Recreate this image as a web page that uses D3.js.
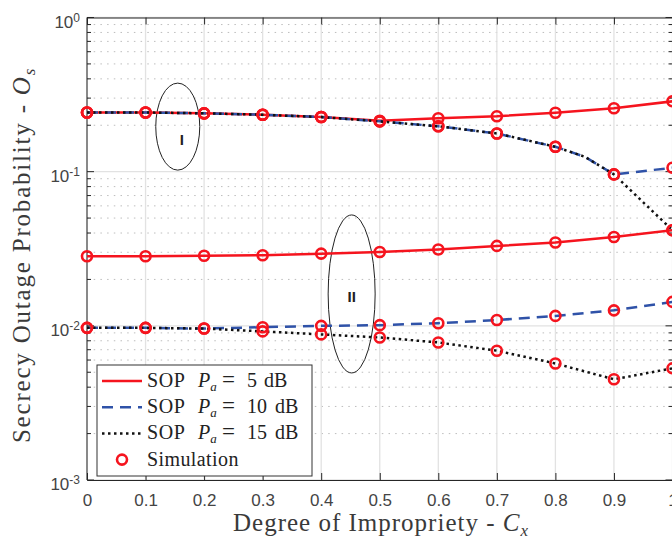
<!DOCTYPE html>
<html>
<head>
<meta charset="utf-8">
<script src="https://cdn.jsdelivr.net/npm/d3@7"></script>
<style>
  body { margin: 0; background: #fff; }
  svg { display: block; }
</style>
</head>
<body>
<div id="chart"></div>
<script>
// Degree of impropriety (x axis)
const cx = [0, 0.1, 0.2, 0.3, 0.4, 0.5, 0.6, 0.7, 0.8, 0.9, 1.0];
// analytical curves of group I for 10 / 15 dB have a visible kink near 0.85
const cxFine = [0, 0.1, 0.2, 0.3, 0.4, 0.5, 0.6, 0.7, 0.8, 0.85, 0.9, 1.0];

// Group I
const sop5I = [0.242, 0.242, 0.239, 0.234, 0.226, 0.214, 0.222, 0.229, 0.241, 0.258, 0.286];
const sop10I = [0.242, 0.242, 0.239, 0.234, 0.226, 0.212, 0.197, 0.177, 0.145, 0.125, 0.096, 0.106];
const sop15I = [0.242, 0.242, 0.239, 0.234, 0.226, 0.212, 0.197, 0.177, 0.145, 0.125, 0.096, 0.0417];
const sim10I = [0.242, 0.242, 0.239, 0.234, 0.226, 0.212, 0.197, 0.177, 0.145, 0.096, 0.106];
const sim15I = [0.242, 0.242, 0.239, 0.234, 0.226, 0.212, 0.197, 0.177, 0.145, 0.096, 0.0417];

// Group II
const sop5II = [0.0283, 0.0283, 0.0285, 0.0287, 0.0294, 0.0301, 0.0313, 0.0330, 0.0347, 0.0377, 0.0417];
const sop10II = [0.0097, 0.0097, 0.0096, 0.0098, 0.0100, 0.0101, 0.0104, 0.0109, 0.0116, 0.0126, 0.0143];
const sop15II = [0.0097, 0.0097, 0.0096, 0.0092, 0.0088, 0.0084, 0.0078, 0.0069, 0.0057, 0.0045, 0.0053];

const xTicks = [0, 0.1, 0.2, 0.3, 0.4, 0.5, 0.6, 0.7, 0.8, 0.9, 1];
const xTickLabels = ['0', '0.1', '0.2', '0.3', '0.4', '0.5', '0.6', '0.7', '0.8', '0.9', '1'];
const yExponents = [-3, -2, -1, 0];
const legendPowers = ['5', '10', '15'];

const W = 672, H = 541;
const margin = { top: 17.5, right: 0, bottom: 61, left: 87 };
const plotW = 585.5, plotH = H - margin.top - margin.bottom;

const red = '#f5141e', blue = '#2f52a8', black = '#111';
const axisColor = '#262626';
const sans = 'Liberation Sans, Arial, sans-serif';
const serif = 'Liberation Serif, Times New Roman, serif';

const svg = d3.select('#chart').append('svg')
    .attr('width', W).attr('height', H);

const x = d3.scaleLinear().domain([0, 1]).range([margin.left, margin.left + plotW]);
const y = d3.scaleLog().domain([1e-3, 1]).range([margin.top + plotH, margin.top]);

// Grid
const grid = svg.append('g');
const minorVals = [];
yExponents.slice(0, -1).forEach(e => {
    for (let k = 2; k <= 9; k++) minorVals.push(k * Math.pow(10, e));
});
grid.selectAll('.minor').data(minorVals).enter().append('line')
    .attr('x1', x(0)).attr('x2', x(1))
    .attr('y1', d => y(d)).attr('y2', d => y(d))
    .attr('stroke', '#bdbdbd').attr('stroke-width', 1)
    .attr('stroke-dasharray', '1.5,5.2');
grid.selectAll('.majx').data(xTicks).enter().append('line')
    .attr('x1', d => x(d)).attr('x2', d => x(d))
    .attr('y1', y(1e-3)).attr('y2', y(1))
    .attr('stroke', '#e2e2e2').attr('stroke-width', 1.3);
grid.selectAll('.majy').data(yExponents).enter().append('line')
    .attr('x1', x(0)).attr('x2', x(1))
    .attr('y1', d => y(Math.pow(10, d))).attr('y2', d => y(Math.pow(10, d)))
    .attr('stroke', '#e2e2e2').attr('stroke-width', 1.3);

// Axes
const xAxis = d3.axisBottom(x).tickValues(xTicks).tickSize(-7).tickPadding(14)
    .tickFormat((d, i) => xTickLabels[i]);
const gx = svg.append('g').attr('transform', `translate(0,${y(1e-3)})`).call(xAxis);
gx.select('.domain').attr('stroke', axisColor);
gx.selectAll('.tick line').attr('stroke', axisColor);
gx.selectAll('text').attr('fill', '#444').style('font-family', sans).style('font-size', '17px');

const xTop = d3.axisTop(x).tickValues(xTicks).tickSize(-7).tickFormat('');
const gxt = svg.append('g').attr('transform', `translate(0,${y(1)})`).call(xTop);
gxt.select('.domain').attr('stroke', axisColor);
gxt.selectAll('.tick line').attr('stroke', axisColor);

// y axis: line + major/minor ticks inside on both sides
const gy = svg.append('g');
gy.append('line').attr('x1', x(0)).attr('x2', x(0)).attr('y1', y(1e-3)).attr('y2', y(1)).attr('stroke', axisColor);
gy.append('line').attr('x1', x(1)).attr('x2', x(1)).attr('y1', y(1e-3)).attr('y2', y(1)).attr('stroke', axisColor);
[[x(0), 1], [x(1), -1]].forEach(([x0, dir]) => {
    gy.selectAll(null).data(yExponents).enter().append('line')
        .attr('x1', x0).attr('x2', x0 + dir * 7)
        .attr('y1', d => y(Math.pow(10, d))).attr('y2', d => y(Math.pow(10, d)))
        .attr('stroke', axisColor);
    gy.selectAll(null).data(minorVals).enter().append('line')
        .attr('x1', x0).attr('x2', x0 + dir * 4)
        .attr('y1', d => y(d)).attr('y2', d => y(d))
        .attr('stroke', axisColor);
});
const ylab = gy.selectAll('.ylab').data(yExponents).enter().append('text')
    .attr('x', x(0) - 7).attr('y', d => y(Math.pow(10, d)) + 10)
    .attr('text-anchor', 'end')
    .attr('fill', '#444')
    .style('font-family', sans)
    .style('font-size', '17px');
ylab.append('tspan').text('10');
ylab.append('tspan').attr('dy', -6).style('font-size', '12px').text(d => d);

// Ellipse annotations (group I and II)
const ann = svg.append('g');
ann.append('ellipse').attr('cx', x(0.155)).attr('cy', y(0.196)).attr('rx', 22).attr('ry', 43.5)
    .attr('fill', 'none').attr('stroke', '#222').attr('stroke-width', 1);
ann.append('text').attr('x', x(0.162)).attr('y', y(0.196) + 18)
    .attr('text-anchor', 'middle').style('font-family', sans)
    .style('font-size', '15px').style('font-weight', 'bold').attr('fill', '#222').text('I');
ann.append('ellipse').attr('cx', x(0.452)).attr('cy', y(0.0161)).attr('rx', 23.5).attr('ry', 79)
    .attr('fill', 'none').attr('stroke', '#222').attr('stroke-width', 1);
ann.append('text').attr('x', x(0.452)).attr('y', y(0.0161) + 8)
    .attr('text-anchor', 'middle').style('font-family', sans)
    .style('font-size', '15px').style('font-weight', 'bold').attr('fill', '#222').text('II');

// Curves
const line = d3.line().x(d => x(d[0])).y(d => y(d[1]));
const zip = (xs, ys) => xs.map((v, i) => [v, ys[i]]);
const styles = {
    p5: { stroke: red, dash: null },
    p10: { stroke: blue, dash: '11,7' },
    p15: { stroke: black, dash: '2.5,3.5' }
};
const curves = [
    [zip(cx, sop5I), 'p5'], [zip(cx, sop5II), 'p5'],
    [zip(cxFine, sop10I), 'p10'], [zip(cx, sop10II), 'p10'],
    [zip(cxFine, sop15I), 'p15'], [zip(cx, sop15II), 'p15']
];
svg.append('g').selectAll('path').data(curves).enter().append('path')
    .attr('d', d => line(d[0]))
    .attr('fill', 'none')
    .attr('stroke', d => styles[d[1]].stroke)
    .attr('stroke-width', 2.5)
    .attr('stroke-dasharray', d => styles[d[1]].dash);

// Simulation markers
const simPts = [].concat(zip(cx, sop5I), zip(cx, sim10I), zip(cx, sim15I),
    zip(cx, sop5II), zip(cx, sop10II), zip(cx, sop15II));
svg.append('g').selectAll('circle').data(simPts).enter().append('circle')
    .attr('cx', d => x(d[0])).attr('cy', d => y(d[1])).attr('r', 5)
    .attr('fill', 'none').attr('stroke', red).attr('stroke-width', 2.6);

// Legend
const lg = svg.append('g').attr('transform', 'translate(97,365)');
lg.append('rect').attr('width', 215).attr('height', 111)
    .attr('fill', '#fff').attr('stroke', '#333').attr('stroke-width', 1);
const legendKeys = ['p5', 'p10', 'p15'];
legendKeys.forEach((key, i) => {
    const yy = 16 + i * 26.2;
    lg.append('line').attr('x1', 5).attr('x2', 45).attr('y1', yy).attr('y2', yy)
        .attr('stroke', styles[key].stroke).attr('stroke-width', 2.5)
        .attr('stroke-dasharray', styles[key].dash);
    const t = lg.append('text').attr('y', yy + 6)
        .style('font-family', serif)
        .style('font-size', '20px').attr('fill', '#222');
    t.append('tspan').attr('x', 50).style('letter-spacing', '0.6px').text('SOP');
    t.append('tspan').attr('x', 101).style('font-style', 'italic').text('P');
    t.append('tspan').attr('dy', 4).style('font-style', 'italic').style('font-size', '13px').text('a');
    t.append('tspan').attr('x', 125).attr('dy', -4).style('font-size', '23px').text('=');
    t.append('tspan').attr('x', 150).text(legendPowers[i]);
    t.append('tspan').attr('x', legendPowers[i].length > 1 ? 178 : 167).text('dB');
});
lg.append('circle').attr('cx', 25).attr('cy', 94.6).attr('r', 5)
    .attr('fill', 'none').attr('stroke', red).attr('stroke-width', 2.6);
lg.append('text').attr('x', 50).attr('y', 100.6)
    .style('font-family', serif).style('letter-spacing', '0.4px')
    .style('font-size', '20px').attr('fill', '#222').text('Simulation');

// Axis titles
const xt = svg.append('text').attr('x', 381).attr('y', 531).attr('text-anchor', 'middle')
    .style('font-family', serif).style('letter-spacing', '1px')
    .style('font-size', '25px').attr('fill', '#3a3a3a');
xt.append('tspan').text('Degree of Impropriety - ');
xt.append('tspan').style('font-style', 'italic').text('C');
xt.append('tspan').attr('dy', 5).style('font-style', 'italic').style('font-size', '17px').text('x');

const yt = svg.append('text').attr('transform', 'translate(30,255) rotate(-90)').attr('text-anchor', 'middle')
    .style('font-family', serif).style('letter-spacing', '1.8px')
    .style('font-size', '25px').attr('fill', '#3a3a3a');
yt.append('tspan').text('Secrecy Outage Probability - ');
yt.append('tspan').style('font-style', 'italic').text('O');
yt.append('tspan').attr('dy', 5).style('font-style', 'italic').style('font-size', '17px').text('s');
</script>
</body>
</html>
